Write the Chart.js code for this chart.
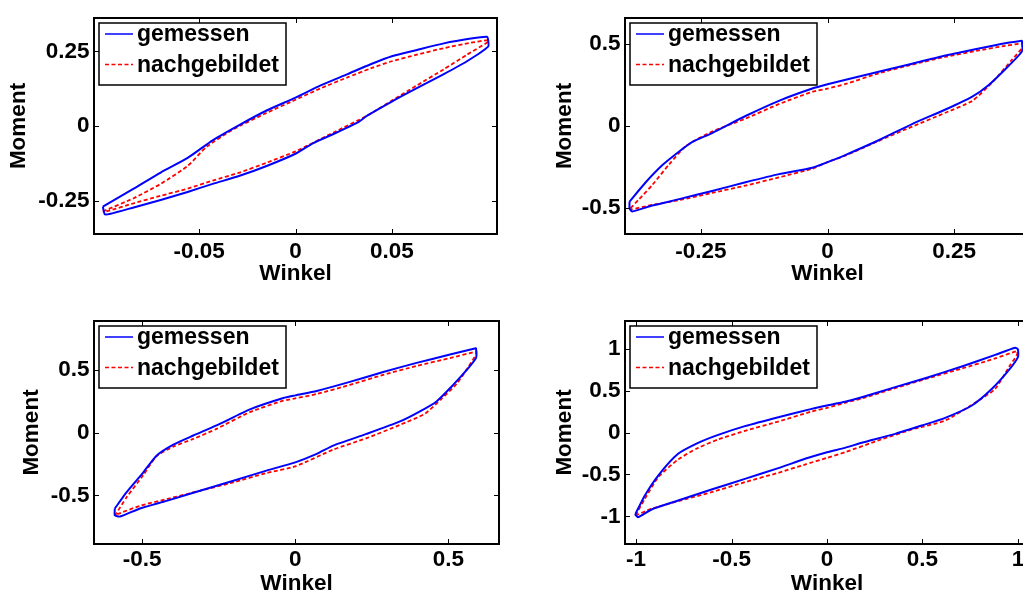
<!DOCTYPE html>
<html>
<head>
<meta charset="utf-8">
<script src="https://cdn.jsdelivr.net/npm/chart.js@4/dist/chart.umd.min.js"></script>
<style>
  html, body { margin: 0; padding: 0; background: #fff; }
  body { width: 1023px; height: 595px; overflow: hidden; position: relative; }
  canvas { position: absolute; }
</style>
</head>
<body>
<canvas id="c1" width="512" height="298" style="left:0;top:0"></canvas>
<canvas id="c2" width="530" height="298" style="left:512px;top:0"></canvas>
<canvas id="c3" width="512" height="310" style="left:0;top:298px"></canvas>
<canvas id="c4" width="530" height="310" style="left:512px;top:298px"></canvas>
<script>
// Series labels
const seriesLabels = ['gemessen', 'nachgebildet'];

// Panel 1 (top left)
const winkelGem1 = [-0.100, -0.084, -0.070, -0.056, -0.043, -0.029, -0.015, 0.000, 0.013, 0.027, 0.039, 0.050, 0.063, 0.077, 0.091, 0.0993, 0.100, 0.100, 0.089, 0.077, 0.061, 0.050, 0.037, 0.033, 0.020, 0.009, 0.000, -0.015, -0.029, -0.043, -0.056, -0.070, -0.084, -0.096, -0.099, -0.100];
const momentGem1 = [-0.270, -0.210, -0.156, -0.107, -0.048, 0.004, 0.052, 0.095, 0.136, 0.174, 0.207, 0.234, 0.255, 0.277, 0.293, 0.299, 0.288, 0.266, 0.217, 0.174, 0.120, 0.082, 0.034, 0.015, -0.026, -0.058, -0.093, -0.134, -0.167, -0.194, -0.221, -0.248, -0.273, -0.294, -0.296, -0.270];
const winkelNach1 = [-0.100, -0.084, -0.070, -0.056, -0.046, -0.032, -0.015, 0.000, 0.013, 0.027, 0.039, 0.050, 0.063, 0.077, 0.091, 0.100, 0.100, 0.089, 0.077, 0.063, 0.050, 0.037, 0.020, 0.000, -0.015, -0.029, -0.043, -0.056, -0.070, -0.084, -0.098, -0.100];
const momentNach1 = [-0.286, -0.242, -0.194, -0.134, -0.069, -0.010, 0.044, 0.088, 0.126, 0.163, 0.193, 0.217, 0.239, 0.261, 0.279, 0.288, 0.282, 0.239, 0.190, 0.136, 0.085, 0.034, -0.021, -0.085, -0.123, -0.156, -0.183, -0.210, -0.234, -0.259, -0.286, -0.286];
const xTicks1 = [-0.05, 0, 0.05];
const yTicks1 = [-0.25, 0, 0.25];

// Panel 2 (top right)
const winkelGem2 = [-0.391, -0.359, -0.326, -0.293, -0.267, -0.228, -0.162, -0.096, -0.030, 0.000, 0.036, 0.101, 0.167, 0.233, 0.299, 0.351, 0.381, 0.384, 0.384, 0.358, 0.318, 0.286, 0.233, 0.167, 0.101, 0.036, 0.000, -0.030, -0.096, -0.162, -0.228, -0.293, -0.346, -0.386, -0.391, -0.391];
const momentGem2 = [-0.462, -0.344, -0.239, -0.156, -0.097, -0.043, 0.061, 0.154, 0.229, 0.255, 0.283, 0.332, 0.381, 0.431, 0.474, 0.506, 0.520, 0.520, 0.456, 0.368, 0.249, 0.180, 0.101, 0.012, -0.087, -0.176, -0.221, -0.255, -0.294, -0.344, -0.397, -0.447, -0.486, -0.522, -0.502, -0.462];
const winkelNach2 = [-0.389, -0.372, -0.346, -0.313, -0.280, -0.228, -0.162, -0.096, -0.030, 0.000, 0.036, 0.101, 0.167, 0.233, 0.299, 0.351, 0.384, 0.384, 0.365, 0.325, 0.286, 0.233, 0.167, 0.101, 0.036, 0.000, -0.030, -0.096, -0.162, -0.228, -0.293, -0.346, -0.389, -0.389];
const momentNach2 = [-0.502, -0.447, -0.360, -0.235, -0.123, -0.034, 0.045, 0.134, 0.209, 0.229, 0.257, 0.322, 0.375, 0.423, 0.462, 0.490, 0.502, 0.476, 0.407, 0.265, 0.154, 0.081, -0.004, -0.091, -0.180, -0.221, -0.261, -0.314, -0.364, -0.409, -0.453, -0.482, -0.510, -0.502];
const xTicks2 = [-0.25, 0, 0.25];
const yTicks2 = [-0.5, 0, 0.5];

// Panel 3 (bottom left)
const winkelGem3 = [-0.589, -0.551, -0.496, -0.453, -0.398, -0.333, -0.257, -0.148, -0.039, 0.000, 0.070, 0.178, 0.287, 0.396, 0.505, 0.586, 0.590, 0.590, 0.559, 0.516, 0.461, 0.407, 0.342, 0.233, 0.124, 0.070, 0.000, -0.094, -0.202, -0.311, -0.420, -0.507, -0.572, -0.589, -0.589];
const momentGem3 = [-0.604, -0.476, -0.317, -0.184, -0.096, -0.024, 0.056, 0.184, 0.274, 0.295, 0.330, 0.402, 0.481, 0.553, 0.620, 0.668, 0.668, 0.593, 0.495, 0.380, 0.247, 0.168, 0.088, -0.011, -0.104, -0.170, -0.237, -0.303, -0.383, -0.463, -0.543, -0.604, -0.668, -0.657, -0.604];
const winkelNach3 = [-0.589, -0.551, -0.496, -0.453, -0.398, -0.333, -0.257, -0.148, -0.039, 0.000, 0.070, 0.178, 0.287, 0.396, 0.505, 0.590, 0.590, 0.565, 0.527, 0.478, 0.423, 0.342, 0.233, 0.124, 0.000, -0.094, -0.202, -0.311, -0.420, -0.507, -0.589, -0.589];
const momentNach3 = [-0.662, -0.516, -0.338, -0.189, -0.112, -0.051, 0.029, 0.162, 0.253, 0.271, 0.306, 0.378, 0.458, 0.529, 0.591, 0.641, 0.620, 0.521, 0.388, 0.269, 0.149, 0.061, -0.045, -0.136, -0.269, -0.322, -0.396, -0.463, -0.529, -0.583, -0.657, -0.662];
const xTicks3 = [-0.5, 0, 0.5];
const yTicks3 = [-0.5, 0, 0.5];

// Panel 4 (bottom right)
const winkelGem4 = [-1.003, -0.954, -0.884, -0.780, -0.675, -0.570, -0.430, -0.255, -0.080, 0.000, 0.094, 0.182, 0.357, 0.531, 0.706, 0.881, 0.986, 1.000, 1.000, 0.951, 0.864, 0.759, 0.619, 0.496, 0.357, 0.182, 0.094, 0.000, -0.115, -0.255, -0.430, -0.605, -0.780, -0.919, -0.989, -1.003, -1.003];
const momentGem4 = [-0.970, -0.751, -0.513, -0.254, -0.123, -0.028, 0.076, 0.183, 0.282, 0.322, 0.366, 0.421, 0.541, 0.660, 0.787, 0.926, 1.010, 0.990, 0.899, 0.740, 0.521, 0.322, 0.175, 0.083, -0.016, -0.123, -0.183, -0.235, -0.314, -0.425, -0.553, -0.680, -0.811, -0.918, -1.010, -0.982, -0.970];
const winkelNach4 = [-1.003, -0.954, -0.884, -0.780, -0.675, -0.570, -0.430, -0.255, -0.080, 0.000, 0.094, 0.182, 0.357, 0.531, 0.706, 0.881, 0.995, 0.995, 0.960, 0.881, 0.794, 0.619, 0.444, 0.269, 0.094, 0.000, -0.115, -0.255, -0.430, -0.605, -0.780, -0.919, -1.003];
const momentNach4 = [-0.990, -0.791, -0.533, -0.322, -0.183, -0.083, 0.020, 0.131, 0.250, 0.294, 0.354, 0.406, 0.529, 0.648, 0.763, 0.883, 0.970, 0.926, 0.807, 0.521, 0.382, 0.143, 0.036, -0.095, -0.235, -0.302, -0.382, -0.481, -0.592, -0.712, -0.819, -0.910, -0.990];
const xTicks4 = [-1, -0.5, 0, 0.5, 1];
const yTicks4 = [-1, -0.5, 0, 0.5, 1];

const FONT = { family: '"Liberation Sans", Arial, sans-serif', weight: 'bold', size: 22.5 };

function toPoints(xs, ys) {
    return xs.map((x, i) => ({ x: x, y: ys[i] }));
}

// MATLAB style box, inward ticks on all sides and legend inside the axes
const matlabBox = {
    id: 'matlabBox',
    afterDatasetsDraw(chart) {
        const { ctx, chartArea: a, scales: { x, y } } = chart;
        ctx.save();
        ctx.strokeStyle = '#000';
        ctx.lineWidth = 1;
        ctx.beginPath();
        x.ticks.forEach(t => {
            const px = Math.round(x.getPixelForValue(t.value)) + 0.5;
            ctx.moveTo(px, a.bottom); ctx.lineTo(px, a.bottom - 5);
            ctx.moveTo(px, a.top); ctx.lineTo(px, a.top + 5);
        });
        y.ticks.forEach(t => {
            const py = Math.round(y.getPixelForValue(t.value)) + 0.5;
            ctx.moveTo(a.left, py); ctx.lineTo(a.left + 5, py);
            ctx.moveTo(a.right, py); ctx.lineTo(a.right - 5, py);
        });
        ctx.stroke();
        ctx.lineWidth = 2;
        ctx.strokeRect(a.left, a.top, a.right - a.left, a.bottom - a.top);

        // legend
        const lx = a.left + 5, ly = a.top + 5, lw = 187, lh = 62;
        ctx.fillStyle = '#fff';
        ctx.fillRect(lx, ly, lw, lh);
        ctx.lineWidth = 1.5;
        ctx.strokeRect(lx, ly, lw, lh);
        ctx.font = 'bold 23px "Liberation Sans", Arial, sans-serif';
        ctx.textBaseline = 'middle';
        chart.data.datasets.forEach((ds, i) => {
            const ry = ly + 11 + i * 30.6;
            ctx.beginPath();
            ctx.strokeStyle = ds.borderColor;
            ctx.lineWidth = 1.5;
            ctx.setLineDash(ds.borderDash || []);
            ctx.moveTo(lx + 6, ry); ctx.lineTo(lx + 34, ry);
            ctx.stroke();
            ctx.setLineDash([]);
            ctx.fillStyle = '#000';
            ctx.fillText(ds.label, lx + 38, ry + 1);
        });
        ctx.restore();
    }
};

function makeChart(id, p) {
    new Chart(document.getElementById(id), {
        type: 'scatter',
        data: {
            datasets: [
                { label: seriesLabels[0], data: toPoints(p.xg, p.yg), showLine: true,
                  borderColor: '#0000ff', borderWidth: 2, pointRadius: 0, tension: 0.2 },
                { label: seriesLabels[1], data: toPoints(p.xn, p.yn), showLine: true,
                  borderColor: '#ff0000', borderWidth: 1.8, borderDash: [4, 2.5], pointRadius: 0, tension: 0.2 }
            ]
        },
        options: {
            responsive: false,
            animation: false,
            events: [],
            layout: { padding: { left: 0, top: p.top, right: p.right, bottom: 0 } },
            plugins: { legend: { display: false }, tooltip: { enabled: false } },
            scales: {
                x: {
                    type: 'linear', min: p.xmin, max: p.xmax,
                    grid: { display: false, drawTicks: false }, border: { display: false },
                    afterBuildTicks: s => { s.ticks = p.xt.map(v => ({ value: v })); },
                    afterFit: s => { s.height = 64; },
                    ticks: { color: '#000', font: FONT, padding: p.xpad, maxRotation: 0, autoSkip: false,
                             callback: v => String(v) },
                    title: { display: true, text: 'Winkel', color: '#000', font: FONT, padding: { top: 0, bottom: 11 } }
                },
                y: {
                    type: 'linear', min: p.ymin, max: p.ymax,
                    grid: { display: false, drawTicks: false }, border: { display: false },
                    afterBuildTicks: s => { s.ticks = p.yt.map(v => ({ value: v })); },
                    afterFit: s => { s.width = p.yw; },
                    ticks: { color: '#000', font: FONT, padding: 4.5, autoSkip: false,
                             callback: v => String(v) },
                    title: { display: true, text: 'Moment', color: '#000', font: FONT, padding: { top: p.ytp, bottom: 0 } }
                }
            }
        },
        plugins: [matlabBox]
    });
}

makeChart('c1', { xg: winkelGem1, yg: momentGem1, xn: winkelNach1, yn: momentNach1, xt: xTicks1, yt: yTicks1,
    xmin: -0.1046, xmax: 0.1046, ymin: -0.362, ymax: 0.362, top: 11, right: 15, yw: 94, ytp: 5.5, xpad: 4 });
makeChart('c2', { xg: winkelGem2, yg: momentGem2, xn: winkelNach2, yn: momentNach2, xt: xTicks2, yt: yTicks2,
    xmin: -0.4, xmax: 0.4, ymin: -0.66, ymax: 0.66, top: 11, right: 12, yw: 113, ytp: 39, xpad: 4 });
makeChart('c3', { xg: winkelGem3, yg: momentGem3, xn: winkelNach3, yn: momentNach3, xt: xTicks3, yt: yTicks3,
    xmin: -0.657, xmax: 0.665, ymin: -0.886, ymax: 0.886, top: 23, right: 13, yw: 94, ytp: 18, xpad: 2 });
makeChart('c4', { xg: winkelGem4, yg: momentGem4, xn: winkelNach4, yn: momentNach4, xt: xTicks4, yt: yTicks4,
    xmin: -1.058, xmax: 1.058, ymin: -1.33, ymax: 1.33, top: 23, right: 13, yw: 113, ytp: 39, xpad: 2 });
</script>
</body>
</html>
